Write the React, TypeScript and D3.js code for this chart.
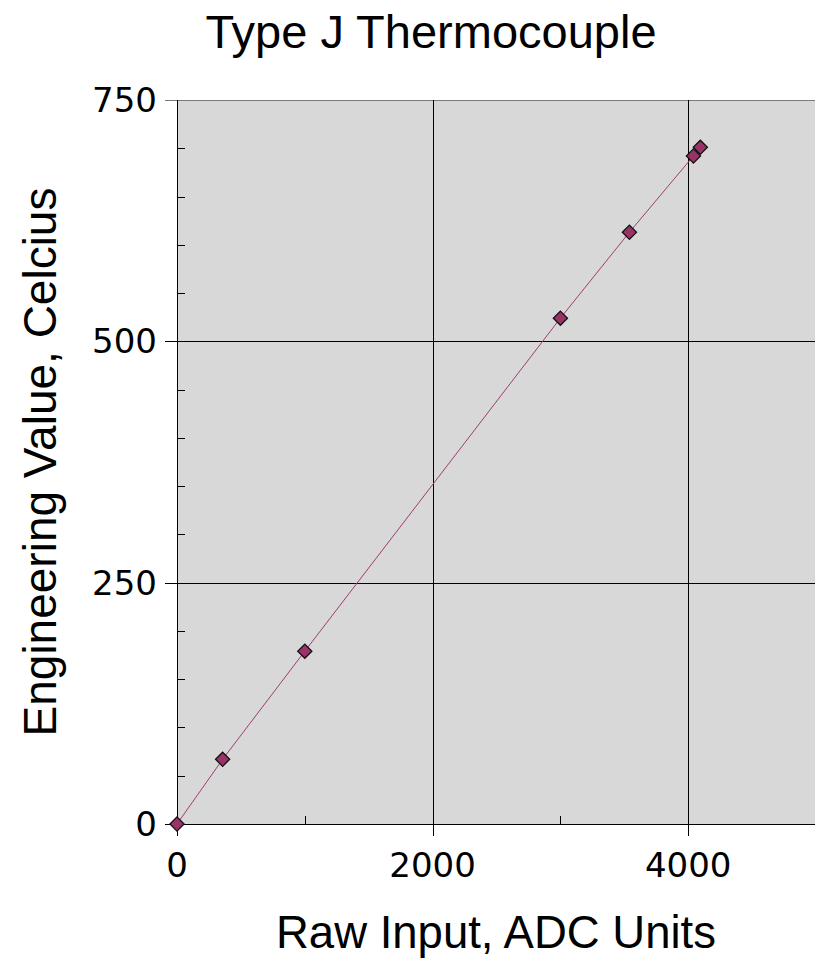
import { select, scaleLinear, line, symbol, symbolSquare } from "d3";
import React, { useRef, useEffect } from "react";

// readings
const rawInput = [0, 357, 1000, 3000, 3540, 4041, 4095];
const celcius = [0, 67, 179, 524, 613, 692, 701];

const xMajorTicks = [0, 2000, 4000];
const xMinorTicks = [1000, 3000];
const yMajorTicks = [0, 250, 500, 750];
const yMinorTicks = [50, 100, 150, 200, 300, 350, 400, 450, 550, 600, 650, 700];

const W = 815;
const H = 963;

const App = () => {
  const svgRef = useRef<SVGSVGElement>(null);

  const xScale = scaleLinear().domain([0, 5000]).range([177, 816]);
  const yScale = scaleLinear().domain([0, 750]).range([824, 100]);

  useEffect(() => {
    const svg = select(svgRef.current);
    svg.selectAll("*").remove();

    const [x0, x1] = xScale.range();
    const [y0, y1] = yScale.range();

    // plot background
    svg
      .append("rect")
      .attr("x", x0)
      .attr("y", y1)
      .attr("width", x1 - x0)
      .attr("height", y0 - y1)
      .attr("fill", "#d8d8d8");

    // gridlines
    svg
      .selectAll(".hgrid")
      .data(yMajorTicks.filter((d) => d > 0))
      .join("line")
      .attr("class", "hgrid")
      .attr("x1", x0 - 12)
      .attr("x2", x1)
      .attr("y1", (d) => Math.round(yScale(d)) + 0.5)
      .attr("y2", (d) => Math.round(yScale(d)) + 0.5)
      .attr("stroke", (d) => (d === 750 ? "#7a7a7a" : "#000"))
      .attr("stroke-width", 1);

    svg
      .selectAll(".vgrid")
      .data(xMajorTicks.filter((d) => d > 0))
      .join("line")
      .attr("class", "vgrid")
      .attr("x1", (d) => Math.round(xScale(d)) + 0.5)
      .attr("x2", (d) => Math.round(xScale(d)) + 0.5)
      .attr("y1", y1)
      .attr("y2", y0 + 12)
      .attr("stroke", "#000");

    // minor ticks, inside
    svg
      .selectAll(".ymin")
      .data(yMinorTicks)
      .join("line")
      .attr("x1", x0)
      .attr("x2", x0 + 8)
      .attr("y1", (d) => Math.round(yScale(d)) + 0.5)
      .attr("y2", (d) => Math.round(yScale(d)) + 0.5)
      .attr("stroke", "#000");

    svg
      .selectAll(".xmin")
      .data(xMinorTicks)
      .join("line")
      .attr("x1", (d) => Math.round(xScale(d)) + 0.5)
      .attr("x2", (d) => Math.round(xScale(d)) + 0.5)
      .attr("y1", y0)
      .attr("y2", y0 - 8)
      .attr("stroke", "#000");

    // axes
    svg
      .append("line")
      .attr("x1", x0 + 0.5)
      .attr("x2", x0 + 0.5)
      .attr("y1", y1)
      .attr("y2", y0 + 12)
      .attr("stroke", "#000");
    svg
      .append("line")
      .attr("x1", x0 - 12)
      .attr("x2", x1)
      .attr("y1", y0 + 0.5)
      .attr("y2", y0 + 0.5)
      .attr("stroke", "#000");

    // tick labels
    svg
      .selectAll(".ylab")
      .data(yMajorTicks)
      .join("text")
      .attr("x", 157)
      .attr("y", (d) => yScale(d) + 12)
      .attr("text-anchor", "end")
      .attr("font-family", "DejaVu Sans")
      .attr("font-size", 34)
      .text((d) => d);

    svg
      .selectAll(".xlab")
      .data(xMajorTicks)
      .join("text")
      .attr("x", (d) => xScale(d))
      .attr("y", 877)
      .attr("text-anchor", "middle")
      .attr("font-family", "DejaVu Sans")
      .attr("font-size", 34)
      .text((d) => d);

    // series line
    const path = line<number>()
      .x((d, i) => xScale(rawInput[i]))
      .y((d) => yScale(d));

    svg
      .append("path")
      .datum(celcius)
      .attr("d", path)
      .attr("fill", "none")
      .attr("stroke", "#a03c72")
      .attr("stroke-width", 1);

    // diamond markers (rotated squares)
    svg
      .selectAll(".pt")
      .data(celcius)
      .join("path")
      .attr("d", symbol().type(symbolSquare).size(100))
      .attr("transform", (d, i) => `translate(${xScale(rawInput[i])},${yScale(d)}) rotate(45)`)
      .attr("fill", "#993366")
      .attr("stroke", "#111")
      .attr("stroke-width", 1.3);

    // titles
    svg
      .append("text")
      .attr("x", 431)
      .attr("y", 48)
      .attr("text-anchor", "middle")
      .attr("font-family", "Liberation Sans")
      .attr("font-size", 47)
      .text("Type J Thermocouple");

    svg
      .append("text")
      .attr("x", 496)
      .attr("y", 948)
      .attr("text-anchor", "middle")
      .attr("font-family", "Liberation Sans")
      .attr("font-size", 45.5)
      .text("Raw Input, ADC Units");

    svg
      .append("text")
      .attr("transform", "translate(56,462) rotate(-90)")
      .attr("text-anchor", "middle")
      .attr("font-family", "Liberation Sans")
      .attr("font-size", 46)
      .text("Engineering Value, Celcius");
  }, []);

  return (
    <svg
      ref={svgRef}
      width={W}
      height={H}
      style={{ position: "absolute", left: 0, top: 0, background: "#fff" }}
    />
  );
};

export default App;
